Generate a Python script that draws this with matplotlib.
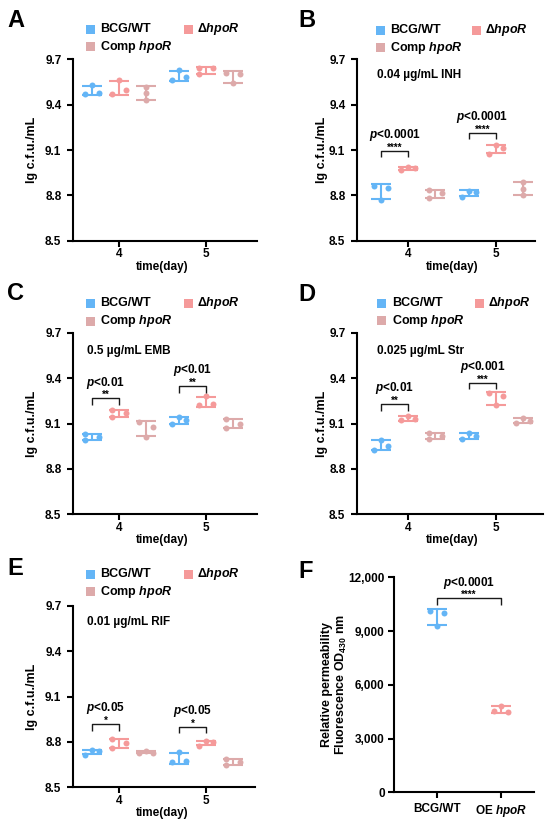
import matplotlib
matplotlib.use("Agg")
import matplotlib.pyplot as plt
import matplotlib.transforms as mtrans
from matplotlib.patches import Rectangle
import numpy as np

plt.rcParams['font.family'] = ['Liberation Sans', 'DejaVu Sans']
plt.rcParams['font.weight'] = 'bold'
plt.rcParams['mathtext.fontset'] = 'custom'
plt.rcParams['mathtext.rm'] = 'Liberation Sans:bold'
plt.rcParams['mathtext.it'] = 'Liberation Sans:italic:bold'
plt.rcParams['mathtext.bf'] = 'Liberation Sans:bold'

# ---------------- data ----------------
days = [4, 5]
day_labels = ['4', '5']
strain_labels = ['BCG/WT', 'Δ$hpoR$', 'Comp $hpoR$']
strain_colors = ['#64B5F6', '#F59A9A', '#DDAAAA']
y_ticks = [8.5, 8.8, 9.1, 9.4, 9.7]
y_tick_labels = ['8.5', '8.8', '9.1', '9.4', '9.7']

# replicates per day [day4, day5]
A_bcg = [[9.47, 9.53, 9.48], [9.565, 9.63, 9.58]]
A_del = [[9.47, 9.56, 9.50], [9.64, 9.60, 9.64]]
A_comp = [[9.52, 9.48, 9.43], [9.61, 9.54, 9.60]]

B_bcg = [[8.86, 8.77, 8.85], [8.79, 8.83, 8.82]]
B_del = [[8.97, 8.99, 8.98], [9.075, 9.13, 9.11]]
B_comp = [[8.835, 8.78, 8.815], [8.89, 8.845, 8.80]]

C_bcg = [[9.03, 8.99, 9.01], [9.10, 9.14, 9.12]]
C_del = [[9.19, 9.14, 9.17], [9.22, 9.28, 9.23]]
C_comp = [[9.11, 9.01, 9.08], [9.13, 9.07, 9.10]]

D_bcg = [[8.925, 8.99, 8.95], [8.995, 9.035, 9.02]]
D_del = [[9.12, 9.15, 9.13], [9.30, 9.22, 9.28]]
D_comp = [[9.035, 8.995, 9.02], [9.105, 9.135, 9.115]]

E_bcg = [[8.715, 8.745, 8.74], [8.665, 8.735, 8.675]]
E_del = [[8.82, 8.76, 8.795], [8.775, 8.805, 8.80]]
E_comp = [[8.725, 8.74, 8.73], [8.69, 8.65, 8.665]]

drug_B = '0.04 µg/mL INH'
drug_C = '0.5 µg/mL EMB'
drug_D = '0.025 µg/mL Str'
drug_E = '0.01 µg/mL RIF'

# significance: (day, stars, p label, bracket height)
sig_B = [(4, '****', '$p$<0.0001', 9.095), (5, '****', '$p$<0.0001', 9.215)]
sig_C = [(4, '**', '$p$<0.01', 9.266), (5, '**', '$p$<0.01', 9.348)]
sig_D = [(4, '**', '$p$<0.01', 9.229), (5, '***', '$p$<0.001', 9.37)]
sig_E = [(4, '*', '$p$<0.05', 8.919), (5, '*', '$p$<0.05', 8.901)]

F_labels = ['BCG/WT', 'OE $hpoR$']
F_colors = ['#64B5F6', '#F59A9A']
F_bcg = [10120, 9280, 9990]
F_oe = [4510, 4820, 4500]
F_ticks = [0, 3000, 6000, 9000, 12000]
F_tick_labels = ['0', '3,000', '6,000', '9,000', '12,000']
sig_F = ('****', '$p$<0.0001', 10828)

# ---------------- layout ----------------
W, H = 550, 826
fig = plt.figure(figsize=(W / 100, H / 100), dpi=100)
DODGE = 0.31
JIT_PT = 5.0
CAP_PT = 7.0
LW = 1.5


def make_axes(l, t, r, b):
    return fig.add_axes([l / W, 1 - b / H, (r - l) / W, (b - t) / H])


def style(ax, xpad=0.8, ypad=3.6):
    for s in ['top', 'right']:
        ax.spines[s].set_visible(False)
    for s in ['left', 'bottom']:
        ax.spines[s].set_linewidth(LW)
    ax.tick_params(axis='both', width=LW, length=4.5, labelsize=8.5)
    ax.tick_params(axis='x', pad=xpad)
    ax.tick_params(axis='y', pad=ypad)


def draw_group(ax, x, vals, color, pattern=(-1, 0, 1)):
    vals = np.asarray(vals, dtype=float)
    m = vals.mean()
    sd = vals.std(ddof=1)
    ax.errorbar([x], [m], yerr=[sd], fmt='none', ecolor=color, elinewidth=LW,
                capsize=CAP_PT, capthick=LW, zorder=2)
    for v, p in zip(vals, pattern):
        tr = ax.transData + mtrans.ScaledTranslation(p * JIT_PT / 72, 0, fig.dpi_scale_trans)
        ax.plot([x], [v], 'o', ms=4.3, color=color, mec='none', transform=tr,
                zorder=3, clip_on=False)


def bracket(ax, x1, x2, ytop, stars, ptxt, tip_px=6.7):
    ax_h_px = ax.get_position().height * H
    y0, y1 = ax.get_ylim()
    h = (y1 - y0) * tip_px / ax_h_px
    ax.plot([x1, x1, x2, x2], [ytop - h, ytop, ytop, ytop - h], color='#1a1a1a',
            lw=1.0, solid_capstyle='butt', zorder=4, clip_on=False)
    xc = (x1 + x2) / 2
    ax.annotate(stars, (xc, ytop), xytext=(0, 2.2), textcoords='offset points',
                ha='center', va='center', fontsize=7, annotation_clip=False)
    ax.annotate(ptxt, (xc, ytop), xytext=(0, 11.2), textcoords='offset points',
                ha='center', va='center', fontsize=8.5, annotation_clip=False)


def legend(sq1x, sq2x, row1y, row2y):
    s = 9
    entries = [(sq1x, row1y, 10), (sq2x, row1y, 8.5), (sq1x, row2y, 10)]
    for (cx, cy, tx), lab, col in zip(entries, strain_labels, strain_colors):
        fig.add_artist(Rectangle(((cx - s / 2) / W, 1 - (cy + s / 2) / H), s / W, s / H,
                                 transform=fig.transFigure, color=col, lw=0))
        fig.text((cx + tx) / W, 1 - cy / H, lab, ha='left', va='center', fontsize=9)


def panel_letter(x, baseline, letter):
    fig.text(x / W, 1 - baseline / H, letter, ha='left', va='baseline', fontsize=17)


def day_panel(rect_px, xlim, data, jit, ylab_x, sig=None, drug=None, drug_pos=None):
    ax = make_axes(*rect_px)
    style(ax)
    ax.set_xlim(*xlim)
    ax.set_ylim(y_ticks[0], y_ticks[-1])
    ax.set_yticks(y_ticks)
    ax.set_yticklabels(y_tick_labels)
    ax.set_xticks(days)
    ax.set_xticklabels(day_labels)
    for gi, (series, col) in enumerate(zip(data, strain_colors)):
        for di, day in enumerate(days):
            draw_group(ax, day + (gi - 1) * DODGE, series[di], col,
                       jit.get((gi, di), (-1, 0, 1)))
    if sig:
        for day, stars, ptxt, ytop in sig:
            bracket(ax, day - DODGE, day, ytop, stars, ptxt)
    if drug:
        ax.text(drug_pos[0], drug_pos[1], drug, transform=ax.transAxes,
                ha='left', va='center', fontsize=8.5)
    ax.text(ylab_x, 0.5, 'lg c.f.u./mL', rotation=90, transform=ax.transAxes,
            ha='center', va='center', fontsize=9)
    ax.annotate('time(day)', (np.mean(days), 0), xycoords=('data', 'axes fraction'),
                xytext=(0, -18.7), textcoords='offset points', ha='center',
                va='center', fontsize=8.5, annotation_clip=False)
    return ax


# Panel A
day_panel((72.7, 59.3, 256.7, 240.7), (3.4625, 5.585), [A_bcg, A_del, A_comp],
          {(1, 1): (-1, -1, 1), (2, 0): (0, 0, 0)}, -0.223)
legend(90, 188.3, 29, 46.7)
panel_letter(7, 27, 'A')

# Panel B
day_panel((356.7, 59.3, 535, 240.7), (3.412, 5.445), [B_bcg, B_del, B_comp],
          {(2, 0): (-1, -1, 1), (2, 1): (0, 0, 0)}, -0.196,
          sig_B, drug_B, (0.112, 0.913))
legend(380, 476.7, 30, 47.7)
panel_letter(298, 27, 'B')

# Panel C
day_panel((72.7, 332.7, 256.7, 514.3), (3.4625, 5.585), [C_bcg, C_del, C_comp],
          {(0, 0): (-1, -1, 1), (1, 0): (-1, -1, 1), (2, 1): (-1, -1, 1)}, -0.223,
          sig_C, drug_C, (0.079, 0.899))
legend(90, 188.3, 303.3, 321)
panel_letter(7, 300, 'C')

# Panel D
day_panel((356.7, 332.7, 543, 514.3), (3.412, 5.536), [D_bcg, D_del, D_comp],
          {(2, 0): (-1, -1, 1)}, -0.188,
          sig_D, drug_D, (0.107, 0.899))
legend(381.7, 479, 303.3, 320.7)
panel_letter(298, 300.7, 'D')

# Panel E
day_panel((72.7, 606, 255, 787.3), (3.4625, 5.565), [E_bcg, E_del, E_comp],
          {(1, 0): (-1, -1, 1), (2, 1): (-1, -1, 1)}, -0.225,
          sig_E, drug_E, (0.08, 0.913))
legend(90, 188.3, 574, 591.7)
panel_letter(7, 575, 'E')

# Panel F
axF = make_axes(394.3, 577.3, 533.7, 792.3)
style(axF, xpad=3.5, ypad=2.4)
axF.set_xlim(-0.68, 1.52)
axF.set_ylim(F_ticks[0], F_ticks[-1])
axF.set_yticks(F_ticks)
axF.set_yticklabels(F_tick_labels)
axF.set_xticks(range(len(F_labels)))
axF.set_xticklabels(F_labels, fontsize=8.5)
for i, (vals, col) in enumerate(zip([F_bcg, F_oe], F_colors)):
    draw_group(axF, i, vals, col)
bracket(axF, 0, 1, sig_F[2], sig_F[0], sig_F[1])
axF.text(-0.425, 0.5, 'Relative permeability\nFluorescence OD$_{430}$ nm', rotation=90,
         transform=axF.transAxes, ha='center', va='center', multialignment='center',
         fontsize=9, linespacing=1.15)
panel_letter(298, 578.3, 'F')

fig.savefig('out.png', dpi=100)
